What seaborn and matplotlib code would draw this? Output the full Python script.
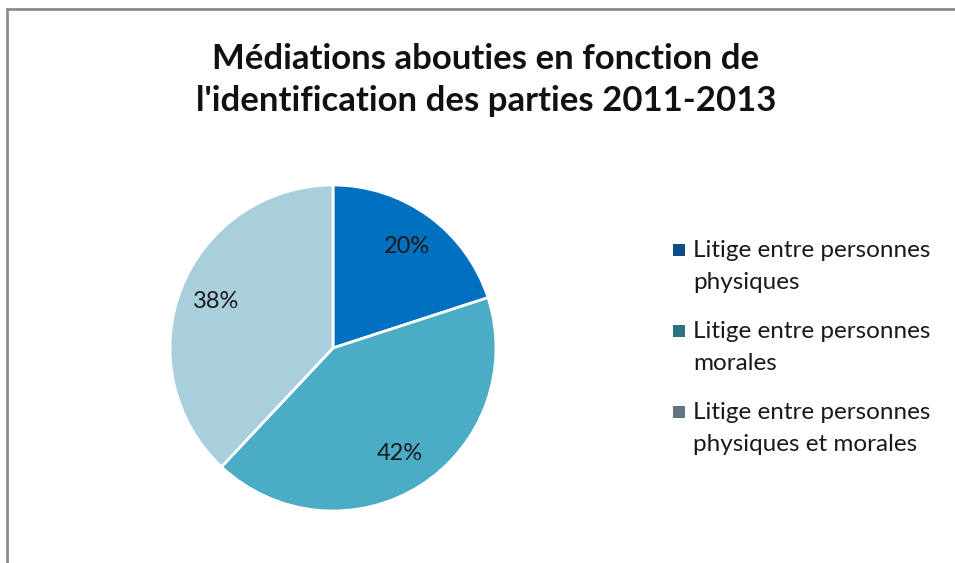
import matplotlib
matplotlib.use("Agg")
import matplotlib.pyplot as plt
from matplotlib.patches import Rectangle
from matplotlib.lines import Line2D
import seaborn as sns

# data
categories = ["Litige entre personnes\nphysiques",
              "Litige entre personnes\nmorales",
              "Litige entre personnes\nphysiques et morales"]
shares = [20, 42, 38]
slice_colors = ["#0070C0", "#4BACC6", "#A9CEDC"]
legend_colors = ["#0E4C85", "#2E7480", "#617882"]
title = "Médiations abouties en fonction de\nl'identification des parties 2011-2013"

sns.set_theme(style="white")
plt.rcParams['font.family'] = ['Lato', 'DejaVu Sans']
FAM = ['Lato', 'DejaVu Sans']
W, H = 955, 563

fig = plt.figure(figsize=(9.55, 5.63), dpi=100)
fig.patch.set_facecolor("white")

# frame lines (top and left) like the original chart box
fig.add_artist(Line2D([7/W, 1], [1 - 9/H, 1 - 9/H], color="#8c8c8c", lw=2))
fig.add_artist(Line2D([7/W, 7/W], [0, 1 - 9/H], color="#8c8c8c", lw=2))

fig.text(486/W, 1 - 80/H, title, ha="center", va="center", family=FAM,
         fontsize=25, fontweight="bold", color="#111111", linespacing=1.36)

# pie axes: centre (333, 348) px, radius 163 px
r = 163
half = 175
ax = fig.add_axes([(333 - half)/W, 1 - (348 + half)/H, 2*half/W, 2*half/H])
wedges, texts, autotexts = ax.pie(shares, colors=slice_colors, startangle=90, counterclock=False,
                                  autopct="%d%%", pctdistance=0.77,
                                  wedgeprops=dict(edgecolor="white", linewidth=2),
                                  textprops=dict(fontsize=17, color="#1a1a1a", family=FAM))
lim = half / r
ax.set_xlim(-lim, lim)
ax.set_ylim(-lim, lim)
ax.set_aspect("auto")
ax.axis("off")

# legend drawn by hand so the square sits on the first text line
for i, (lab, c) in enumerate(zip(categories, legend_colors)):
    yc = 250 + 81 * i
    fig.add_artist(Rectangle(((679 - 6)/W, 1 - (yc + 6)/H), 12/W, 12/H,
                             transform=fig.transFigure, facecolor=c, edgecolor="none"))
    fig.text(693/W, 1 - (yc - 10)/H, lab, ha="left", va="top", family=FAM,
             fontsize=17.5, color="#1a1a1a", linespacing=1.65)

fig.savefig("out.png", dpi=100, facecolor="white")
